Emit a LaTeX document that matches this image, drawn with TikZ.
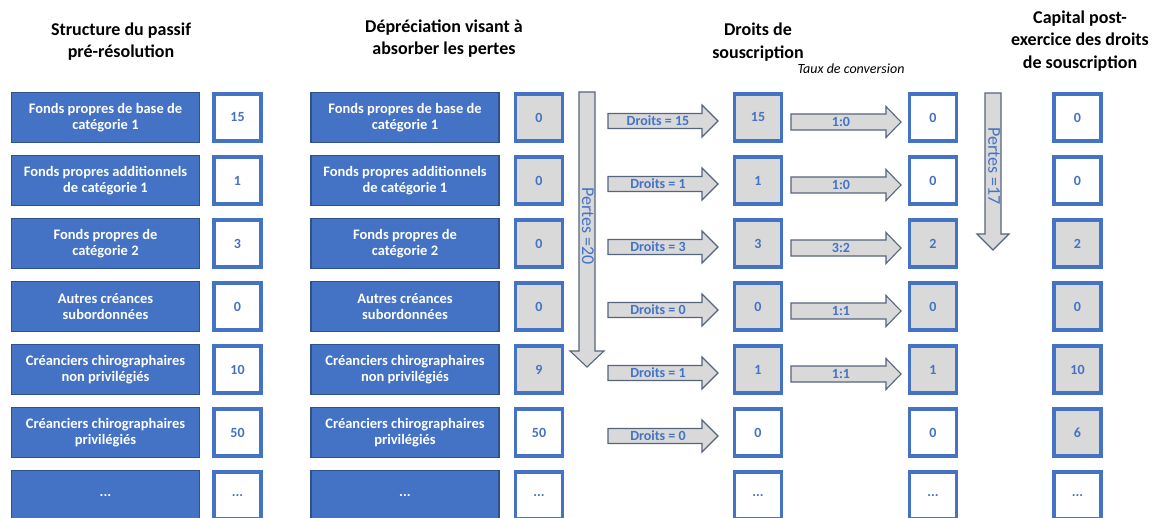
\documentclass[tikz,border=0pt]{standalone}
\usepackage{fontspec}
\setmainfont{Carlito}
\definecolor{obl}{HTML}{4472C4}
\definecolor{obdark}{HTML}{2F528F}
\definecolor{gfill}{HTML}{D9D9D9}
\definecolor{aedge}{HTML}{56657E}
\newcommand\mydots{...}
\tikzset{
  lab/.style={draw=obdark, line width=1.2pt, fill=obl, text=white,
    font=\fontsize{14.5}{15.5}\selectfont\bfseries, align=center,
    minimum width=188pt, minimum height=50pt, inner sep=0pt},
  val/.style={draw=obl, line width=3.8pt, minimum width=47pt, minimum height=47pt,
    inner sep=0pt, text=obl, font=\fontsize{14}{16}\selectfont\bfseries},
  hdr/.style={font=\fontsize{18}{22.5}\selectfont\bfseries, align=center},
  barrow/.style={draw=aedge, fill=gfill, line width=1.1pt, line join=miter},
  atext/.style={text=obl, font=\fontsize{14}{16}\selectfont\bfseries, inner sep=0pt},
  ptext/.style={text=obl, font=\fontsize{18}{20}\selectfont, inner sep=0pt, rotate=-90},
}
\begin{document}
\begin{tikzpicture}[x=1pt,y=-1pt]
\clip (0,0) rectangle (1156,518);
\fill[white] (0,0) rectangle (1156,518);

% headers
\node[hdr] (h1) at (121,41.5) {Structure du passif\\pré-résolution};
\node[hdr] (h2) at (444,38.5) {Dépréciation visant à\\absorber les pertes};
\node[hdr] (h3) at (758,42) {Droits de\\souscription};
\node[hdr] (h4) at (1080,41) {Capital post-\\exercice des droits\\de souscription};
\node[font=\fontsize{14}{15}\selectfont\itshape] (taux) at (851,69) {Taux de conversion};

% rows
\foreach \i/\lab/\a/\b/\c/\d/\e/\fb/\fc/\fd/\fe in {
  1/{Fonds propres de base de\\catégorie 1}/15/0/15/0/0/gfill/gfill/white/white,
  2/{Fonds propres additionnels\\de catégorie 1}/1/0/1/0/0/gfill/gfill/white/white,
  3/{Fonds propres de\\catégorie 2}/3/0/3/2/2/gfill/gfill/gfill/gfill,
  4/{Autres créances\\subordonnées}/0/0/0/0/0/gfill/gfill/gfill/gfill,
  5/{Créanciers chirographaires\\non privilégiés}/10/9/1/1/10/gfill/gfill/gfill/gfill,
  6/{Créanciers chirographaires\\privilégiés}/50/50/0/0/6/white/white/white/gfill,
  7/\mydots/\mydots/\mydots/\mydots/\mydots/\mydots/white/white/white/white}{
  \pgfmathsetmacro\ry{117.5+63*(\i-1)}
  \node[lab] (la\i) at (105.5,\ry) {\lab};
  \node[val, fill=white] (va\i) at (237.5,\ry) {\a};
  \node[lab] (lb\i) at (405,\ry) {\lab};
  \node[val, fill=\fb] (vb\i) at (539,\ry) {\b};
  \node[val, fill=\fc] (vc\i) at (758,\ry) {\c};
  \node[val, fill=\fd] (vd\i) at (933,\ry) {\d};
  \node[val, fill=\fe] (ve\i) at (1077.5,\ry) {\e};
}

% Droits arrows
\foreach \i/\t in {1/15,2/1,3/3,4/0,5/1,6/0}{
  \pgfmathsetmacro\ay{121+63*(\i-1)}
  \draw[barrow] (608,\ay-7.5) -- (702,\ay-7.5) -- (702,\ay-16) -- (718,\ay)
    -- (702,\ay+16) -- (702,\ay+7.5) -- (608,\ay+7.5) -- cycle;
  \node[atext] (dr\i) at (658,\ay) {Droits = \t};
}

% conversion arrows
\foreach \i/\t in {1/1:0,2/1:0,3/3:2,4/1:1,5/1:1}{
  \pgfmathsetmacro\ay{122+63*(\i-1)}
  \draw[barrow] (791,\ay-8) -- (886,\ay-8) -- (886,\ay-15.5) -- (901,\ay)
    -- (886,\ay+15.5) -- (886,\ay+8) -- (791,\ay+8) -- cycle;
  \node[atext] (cv\i) at (841,\ay) {\t};
}

% vertical loss arrows
\draw[barrow] (579,92) -- (595,92) -- (595,351) -- (604,351) -- (587,367)
  -- (570,351) -- (579,351) -- cycle;
\node[ptext] (p20) at (588,226) {Pertes =20};
\draw[barrow] (985,93) -- (1001,93) -- (1001,234) -- (1009,234) -- (993,250)
  -- (977,234) -- (985,234) -- cycle;
\node[ptext] (p17) at (994,166) {Pertes =17};
\end{tikzpicture}
\end{document}
